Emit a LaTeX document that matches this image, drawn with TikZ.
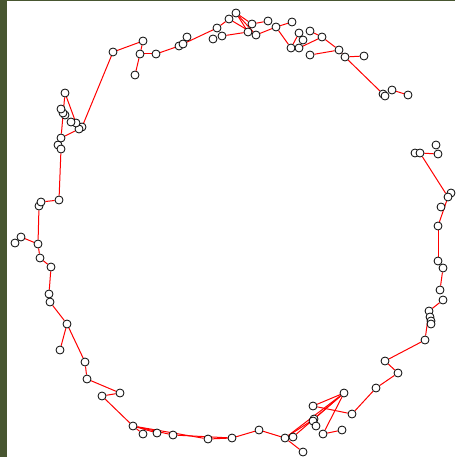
\documentclass[tikz,border=0pt]{standalone}
\usepackage{tikz}
\usetikzlibrary{backgrounds}

\definecolor{frame}{RGB}{72,86,48}

\begin{document}
\begin{tikzpicture}[x=1pt,y=-1pt,
		vtx/.style={circle, draw=black, fill=white, line width=0.8pt, inner sep=0pt, minimum size=8pt},
		link/.style={red, line width=1pt}]
		% Frame and canvas
		\begin{pgfonlayer}{background}
		\fill[frame] (0,0) rectangle (455,457);
		\fill[white] (7,1) rectangle (455,457);
		\end{pgfonlayer}
		\useasboundingbox (0,0) rectangle (455,457);
		% Vertices, clockwise from the top left
		\foreach \n/\x/\y in {
			1/113/52, 2/143/41, 3/140/54, 4/156/54, 5/135/75, 6/179/46, 7/183/44, 8/187/37,
			9/217/28, 10/213/39, 11/222/36, 12/229/19, 13/236/13, 14/252/24, 15/248/32, 16/256/35,
			17/268/21, 18/276/27, 19/292/22, 20/299/33, 21/303/40, 22/291/48, 23/299/48, 24/310/31,
			25/322/37, 26/310/55, 27/339/50, 28/345/57, 29/364/56, 30/383/94, 31/385/96, 32/392/90,
			33/408/95, 34/436/145, 35/415/153, 36/420/153, 37/438/154, 38/451/193, 39/448/197, 40/441/207,
			41/438/226, 42/438/261, 43/443/268, 44/440/290, 45/443/300, 46/429/311, 47/430/317, 48/431/321,
			49/431/324, 50/425/340, 51/385/361, 52/398/373, 53/376/388, 54/344/393, 55/313/406, 56/352/414,
			57/314/419, 58/313/421, 59/316/426, 60/323/434, 61/342/430, 62/285/438, 63/293/437, 64/303/452,
			65/259/430, 66/232/438, 67/208/439, 68/173/435, 69/157/433, 70/143/434, 71/133/426, 72/102/396,
			73/120/393, 74/87/379, 75/85/362, 76/60/350, 77/67/324, 78/50/302, 79/49/294, 80/51/267,
			81/40/258, 82/38/244, 83/21/237, 84/15/243, 85/39/206, 86/41/202, 87/59/200, 88/58/145,
			89/61/149, 90/61/138, 91/82/127, 92/79/129, 93/76/123, 94/71/122, 95/65/115, 96/63/113,
			97/61/109, 98/65/93}
			\node[vtx] (v\n) at (\x,\y) {};
		% Edges
		\begin{pgfonlayer}{background}
		\foreach \a/\b in {
			1/2, 1/91, 2/3, 3/4, 3/5, 4/6, 7/9, 9/12, 12/13, 13/14, 13/15, 13/16, 12/16, 11/15,
			14/17, 16/18, 18/19, 18/22, 20/22, 23/21, 23/25, 24/25, 25/27, 26/27, 27/28, 28/29, 28/30,
			32/33, 36/37, 36/39, 39/41, 41/42, 43/44, 45/46, 46/50, 50/51, 51/52, 52/53, 53/56,
			55/54, 55/56, 54/57, 54/60, 54/63, 54/62, 57/62, 60/61, 62/64, 65/62,
			65/66, 66/67, 66/68, 67/71, 68/71, 69/71, 70/71, 72/71, 72/73, 73/74, 74/75, 75/77,
			77/76, 77/78, 79/80, 80/81, 81/82, 82/83, 82/85, 86/87, 87/89, 90/92, 98/90, 98/93}
			\draw[link] (v\a) -- (v\b);
		\end{pgfonlayer}
	\end{tikzpicture}
\end{document}
